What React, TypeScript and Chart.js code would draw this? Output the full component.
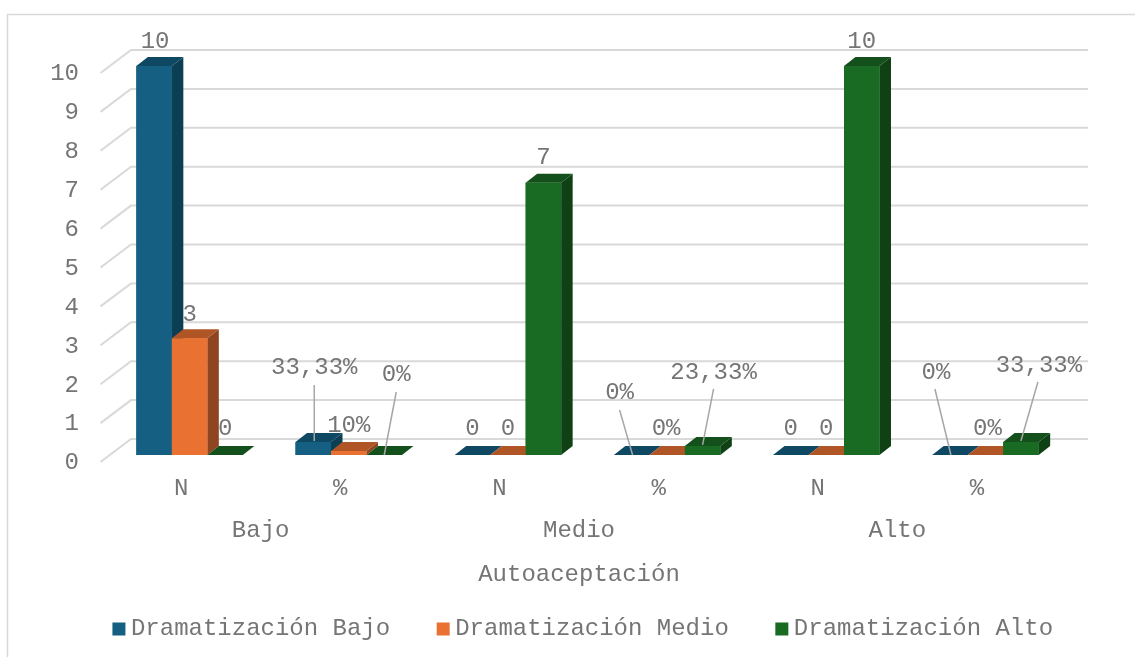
import React, { useEffect, useRef } from "react";
import { Chart, registerables } from "chart.js";

Chart.register(...registerables);

const subCategories = ["N", "%", "N", "%", "N", "%"];
const mainCategories = ["Bajo", "Medio", "Alto"];
const axisTitle = "Autoaceptación";

const seriesNames = ["Dramatización Bajo", "Dramatización Medio", "Dramatización Alto"];
const bajoValues = [10, 0.3333, 0, 0, 0, 0];
const medioValues = [3, 0.1, 0, 0, 0, 0];
const altoValues = [0, 0, 7, 0.2333, 10, 0.3333];
const bajoLabels = ["10", "33,33%", "0", "0%", "0", "0%"];
const medioLabels = ["3", "10%", "0", "0%", "0", "0%"];
const altoLabels = ["0", "0%", "7", "23,33%", "10", "33,33%"];

const frontColors = ["#156082", "#E97132", "#196B24"];
const topColors = ["#0F4862", "#AF5526", "#13501B"];
const sideColors = ["#0C3E54", "#8F451F", "#0F4115"];

// Label placement relative to the top-front centre of the bar: [dx, dy]
const labelOffsets = [
  [[1, -24], [1, -74], [0, -26], [-12, -62], [0, -26], [-14, -82]],
  [[0, -24], [0, -25], [0, -26], [-1, -26], [0, -26], [2, -26]],
  [[0, -26], [12, -80], [0, -25], [11, -73], [0, -24], [18, -76]],
];
// Leader lines: [startDx, startDy, endDx, endDy] relative to the same point
const leaders: (number[] | null)[][] = [
  [null, [1, -57, 1, -1], null, [-12, -45, 1, 0], null, [-15, -66, 1, 0]],
  [null, null, null, null, null, null],
  [null, [12, -63, 0, 0], null, [11, -57, 0, -1], null, [17, -60, 0, -1]],
];

const FONT = "'Liberation Mono', 'Courier New', monospace";
const TEXT = "#757575";
const GRID = "#d9d9d9";
const DX = 11.5;
const DY = 9;

const threeD = {
  id: "threeD",
  afterLayout(chart: any) {
    const legend = chart.legend;
    legend.left += 53.5;
    legend.right += 53.5;
    legend.top -= 25.4;
    legend.bottom -= 25.4;
    // the axis title is centred on the wall-shifted axis, like its tick labels
    chart.scales.x2.right -= 17;
  },
  beforeDraw(chart: any) {
    const { ctx, width, height } = chart;
    ctx.save();
    ctx.fillStyle = "#ffffff";
    ctx.fillRect(0, 0, width, height);
    ctx.strokeStyle = "#d9d9d9";
    ctx.lineWidth = 1.5;
    ctx.beginPath();
    ctx.moveTo(7.5, height);
    ctx.lineTo(7.5, 14.5);
    ctx.lineTo(width, 14.5);
    ctx.stroke();
    ctx.restore();
  },
  beforeDatasetsDraw(chart: any) {
    const { ctx } = chart;
    const y = chart.scales.y;
    ctx.save();
    ctx.strokeStyle = GRID;
    ctx.lineWidth = 2;
    y.ticks.forEach((t: any) => {
      const p = y.getPixelForValue(t.value);
      ctx.beginPath();
      ctx.moveTo(100.5, p + 7);
      ctx.lineTo(131, p - 16);
      ctx.lineTo(1088, p - 16);
      ctx.stroke();
    });
    ctx.restore();
  },
  afterDatasetsDraw(chart: any) {
    const { ctx } = chart;
    chart.data.datasets.forEach((ds: any, si: number) => {
      const meta = chart.getDatasetMeta(si);
      meta.data.forEach((bar: any) => {
        const { x, y, base, width } = bar.getProps(["x", "y", "base", "width"], true);
        const l = x - width / 2;
        const r = x + width / 2;
        ctx.save();
        if (base - y > 0.1) {
          ctx.fillStyle = sideColors[si];
          ctx.beginPath();
          ctx.moveTo(r, y);
          ctx.lineTo(r + DX, y - DY);
          ctx.lineTo(r + DX, base - DY);
          ctx.lineTo(r, base);
          ctx.closePath();
          ctx.fill();
        }
        ctx.fillStyle = topColors[si];
        ctx.beginPath();
        ctx.moveTo(l, y);
        ctx.lineTo(l + DX, y - DY);
        ctx.lineTo(r + DX, y - DY);
        ctx.lineTo(r, y);
        ctx.closePath();
        ctx.fill();
        ctx.restore();
        bar.draw(ctx);
      });
    });
    const texts = [bajoLabels, medioLabels, altoLabels];
    ctx.save();
    chart.data.datasets.forEach((ds: any, si: number) => {
      chart.getDatasetMeta(si).data.forEach((bar: any, i: number) => {
        const { x, y } = bar.getProps(["x", "y"], true);
        const lead = leaders[si][i];
        if (lead) {
          ctx.strokeStyle = "#a6a6a6";
          ctx.lineWidth = 1.5;
          ctx.beginPath();
          ctx.moveTo(x + lead[0], y + lead[1]);
          ctx.lineTo(x + lead[2], y + lead[3]);
          ctx.stroke();
        }
        const [dx, dy] = labelOffsets[si][i];
        ctx.font = `24px ${FONT}`;
        ctx.fillStyle = TEXT;
        ctx.textAlign = "center";
        ctx.textBaseline = "middle";
        ctx.fillText(texts[si][i], x + dx, y + dy);
      });
    });
    ctx.restore();
  },
};

export default function App() {
  const ref = useRef<HTMLCanvasElement>(null);
  useEffect(() => {
    const values = [bajoValues, medioValues, altoValues];
    const chart = new Chart(ref.current as HTMLCanvasElement, {
      type: "bar",
      data: {
        labels: subCategories,
        datasets: seriesNames.map((name, i) => ({
          label: name,
          data: values[i],
          backgroundColor: frontColors[i],
          borderWidth: 0,
          barPercentage: 1,
          categoryPercentage: 0.669,
          xAxisID: "x",
          yAxisID: "y",
        })),
      },
      plugins: [threeD],
      options: {
        responsive: false,
        animation: false,
        devicePixelRatio: 1,
        layout: { padding: { left: 0, right: 70, top: 66, bottom: -19.4 } },
        plugins: {
          tooltip: { enabled: false },
          title: { display: false },
          legend: {
            display: true,
            position: "bottom",
            labels: {
              usePointStyle: true,
              pointStyle: "rect",
              boxWidth: 0.01,
              boxHeight: 13,
              padding: 53,
              color: TEXT,
              font: { family: FONT, size: 24 },
            },
          },
        },
        scales: {
          y: {
            type: "linear",
            position: "left",
            min: 0,
            max: 10,
            afterFit(s: any) {
              s.width = 110;
            },
            grid: { display: false, drawTicks: false },
            border: { display: false },
            ticks: {
              stepSize: 1,
              autoSkip: false,
              padding: 31,
              labelOffset: 8,
              color: TEXT,
              font: { family: FONT, size: 24 },
            },
          },
          x: {
            type: "category",
            position: "bottom",
            afterFit(s: any) {
              s.height = 58;
            },
            grid: { display: false, drawTicks: false },
            border: { display: false },
            ticks: {
              padding: 19,
              labelOffset: -8.5,
              autoSkip: false,
              maxRotation: 0,
              color: TEXT,
              font: { family: FONT, size: 24 },
            },
          },
          x2: {
            type: "category",
            position: "bottom",
            labels: mainCategories,
            afterFit(s: any) {
              s.height = 76.4;
            },
            grid: { display: false, drawTicks: false },
            border: { display: false },
            ticks: {
              padding: 3,
              labelOffset: -8.5,
              autoSkip: false,
              maxRotation: 0,
              color: TEXT,
              font: { family: FONT, size: 24 },
            },
            title: {
              display: true,
              text: axisTitle,
              color: TEXT,
              padding: { top: 8, bottom: 0 },
              font: { family: FONT, size: 24 },
            },
          },
        },
      },
    } as any);
    return () => chart.destroy();
  }, []);
  return (
    <div style={{ position: "fixed", left: 0, top: 0, width: 1135, height: 657 }}>
      <canvas ref={ref} width={1135} height={657} style={{ display: "block" }} />
    </div>
  );
}
